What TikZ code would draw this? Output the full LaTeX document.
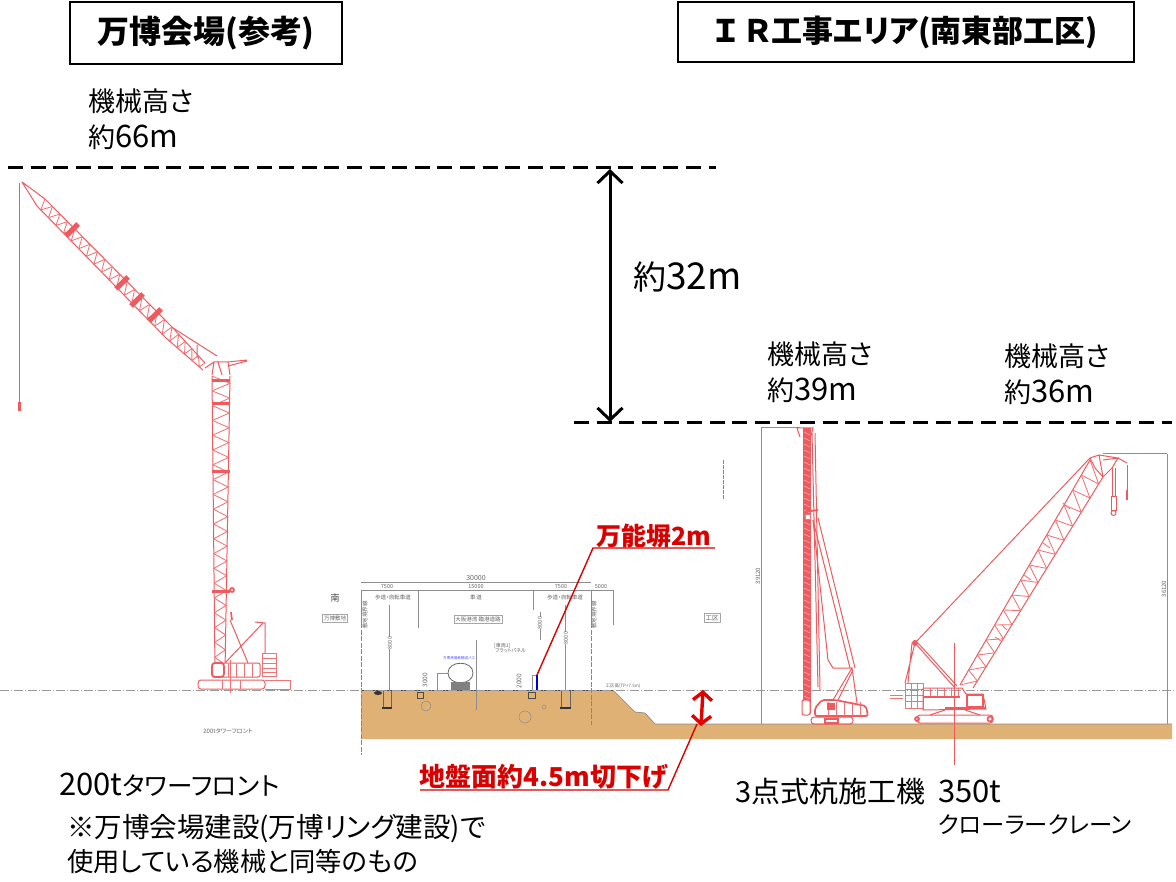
\documentclass[tikz,border=0pt]{standalone}
\usepackage{fontspec}
\setmainfont{Noto Sans CJK JP}[RawFeature=+palt]
\usetikzlibrary{arrows.meta,calc}
\definecolor{soil}{HTML}{E0B174}
\definecolor{crane}{HTML}{EE5A5E}
\definecolor{dimgray}{HTML}{8E8E8E}
\newcommand{\fsz}[1]{\fontsize{#1}{#1}\selectfont}
\newcommand{\craneLat}[5]{%
  \draw[cr] #1 -- #2 #3 -- #4;
  \foreach \ii in {1,...,#5}{\draw[crt] ($#1!{(\ii-1)/#5}!#2$) -- ($#3!{(\ii-.5)/#5}!#4$) -- ($#1!{\ii/#5}!#2$);}
}
\tikzset{
  cr/.style={draw=crane,line width=1pt},
  crt/.style={draw=crane!85!white,line width=.85pt},
  crb/.style={draw=crane,line width=1.7pt},
  titlebox/.style={draw=black,line width=1.5pt,minimum height=62pt,inner sep=0pt,font=\fsz{32}\bfseries},
  lbl/.style={anchor=west,inner sep=0pt,align=left,font=\fsz{27}},
  redlbl/.style={inner sep=0pt,text=red!85!black,font=\fsz{25}\bfseries},
  levelline/.style={draw=black,line width=3pt,dash pattern=on 15pt off 7.6pt},
  bigarrow/.style={draw=black,line width=3pt,{Straight Barb[length=12pt,width=25pt]}-{Straight Barb[length=12pt,width=25pt]}},
  redarrow/.style={draw=red!90!black,line width=3.4pt,{Straight Barb[length=8pt,width=19pt]}-{Straight Barb[length=8pt,width=19pt]}},
  leader/.style={draw=red!85!black,line width=1.4pt},
  dimline/.style={draw=dimgray,line width=1pt},
  tiny/.style={inner sep=0pt,text=black!60,font=\fsz{5.5}},
  tinybox/.style={draw=black!35,line width=.6pt,inner sep=1.5pt,text=black!60,font=\fsz{5.5}},
  gline/.style={draw=black!40,line width=.5pt,dash pattern=on 9pt off 2pt on 1pt off 2pt},
}
\newcommand{\Lt}[1]{{\fsz{31}#1}}
\begin{document}
\begin{tikzpicture}[x=1pt,y=-1pt]
\useasboundingbox (0,0) rectangle (1176,882);

% titles
\node[titlebox,minimum width=272pt] (t1) at (206,33) {万博会場(参考)};
\node[titlebox,minimum width=456pt,minimum height=60pt,font=\fsz{31}\bfseries] (t2) at (906,32) {Ｉ Ｒ工事エリア(南東部工区)};

% level lines
\coordinate (L1a) at (8,168); \coordinate (L1b) at (716,168);
\coordinate (L2a) at (574,423); \coordinate (L2b) at (1172,423);
\draw[levelline] (L1a) -- (L1b);
\draw[levelline] (L2a) -- (L2b);
\coordinate (Aa) at (610,169); \coordinate (Ab) at (610,422);
\draw[bigarrow] (Aa) -- (Ab);

% height labels
\node[lbl] (h1) at (88,119.5) {機械高さ\\[9pt]約\Lt{66m}};
\node[lbl,font=\fsz{33}] (h0) at (633,277) {約{\fsz{37}32m}};
\node[lbl] (h2) at (767,372) {機械高さ\\[9pt]約\Lt{39m}};
\node[lbl] (h3) at (1004,374) {機械高さ\\[9pt]約\Lt{36m}};
\node[lbl,font=\fsz{25.5}] (c1) at (59,785) {\Lt{200t}タワーフロント};
\node[lbl,font=\fsz{27.5}] (n1) at (67,829) {※万博会場建設(万博リング建設)で};
\node[lbl,font=\fsz{26.3}] (n2) at (67,862) {使用している機械と同等のもの};
\node[lbl,font=\fsz{29}] (c2) at (735,792) {3点式杭施工機};
\node[lbl,font=\fsz{31}] (c3a) at (938,791) {350t};
\node[lbl,font=\fsz{23.3}] (c3b) at (938,825) {クローラークレーン};
\node[tiny,font=\fsz{6}] (c1s) at (228,731) {200tタワーフロント};

% ground
\fill[soil] (361,690) -- (613,690) -- (635,712) -- (645,713) -- (655,724) -- (1172,724) -- (1172,739) -- (361,739) -- cycle;
\draw[black!70,line width=.9pt] (361,690) -- (613,690);
\draw[black!45,line width=.7pt] (613,690) -- (635,712) -- (645,713) -- (655,724) -- (1172,724);
\draw[gline] (0,690) -- (1176,690);

% section: dimensions
\draw[dimline,line width=.8pt] (361,582) -- (591,582);
\draw[dimline,line width=.8pt] (361,590) -- (613,590);
\foreach \xx/\yy in {361/628,418/628,533/610,591/628,613/625}{\draw[dimline,line width=.7pt] (\xx,590) -- (\xx,\yy);}
\node[tiny,font=\fsz{7}] (d0) at (476,578) {30000};
\node[tiny] (d1) at (387,586.5) {7500};
\node[tiny] (d2) at (476,586.5) {15000};
\node[tiny] (d3) at (561,586.5) {7500};
\node[tiny] (d4) at (601,586.5) {5000};
\node[tiny,text=black!75,font=\fsz{9}] (s0) at (335,598) {南};
\node[tiny] (s1) at (393,597) {歩道・自転車道};
\node[tiny] (s2) at (476,597) {車\,道};
\node[tiny] (s3) at (565,597) {歩道・自転車道};
\node[tinybox] (b1) at (335,618) {万博敷地};
\node[tinybox] (b2) at (478,619) {大阪港湾 臨港道路};
\node[tinybox,font=\fsz{6.5}] (b3) at (712,618) {工区};
\node[tiny,rotate=90] (v1) at (365,615) {敷地境界線};
\node[tiny,rotate=90] (v2) at (594,615) {敷地境界線};
\node[tiny,text=blue!70,font=\fsz{3.6}] (bl) at (459,658) {万博来場者輸送バス};
\node[tiny,align=left,font=\fsz{5}] (an) at (510,648) {[車両1]\\\ フラットパネル};
\node[tiny,font=\fsz{4.5}] (tp) at (623,686) {工区高(TP+7.5m)};
% poles
\draw[dimline] (389,605) -- (389,690);
\draw[dimline] (540,612) -- (540,640);
\draw[dimline] (565,605) -- (565,690);
\draw[dimline,line width=.7pt] (476,640) -- (476,710);
\node[tiny,rotate=90,fill=white] (p1) at (390,643) {8000};
\node[tiny,rotate=90,fill=white] (p2) at (540,623) {8000};
\node[tiny,rotate=90,fill=white] (p3) at (566,638) {8000};
\node[tiny,rotate=90,font=\fsz{6.5}] (p4) at (425,680) {3000};
\node[tiny,rotate=90,font=\fsz{6.5}] (p5) at (519,681) {2000};
% boundary red
\draw[draw=crane,line width=.6pt,dash pattern=on 5pt off 1.5pt] (361,597) -- (361,755);
\draw[draw=crane,line width=.6pt,dash pattern=on 5pt off 1.5pt] (591,597) -- (591,725);
% buried
\draw[black!60,line width=.7pt] (383,691) -- (383,708) (391,691) -- (391,708) (561,691) -- (561,708) (570,691) -- (570,708);
\draw[black!80,line width=1.4pt] (382,708) -- (392,708) (560,708) -- (571,708);
\draw[black!70,line width=.8pt] (417,692) rectangle (423,698) (528,692) rectangle (535,698);
\fill[black!80] (378,693) ellipse (4 and 2);
\draw[black!45,line width=.5pt] (426,706) circle (5) (525,717) circle (6) (544,707) circle (2);
% vehicle
\draw[black!60,line width=.8pt,fill=white] (448,673) .. controls (448,660) and (473,660) .. (473,673) .. controls (473,686) and (448,686) .. (448,673);
\fill[black!50] (451,682) rectangle (470,690);
\draw[dimline,line width=.5pt] (437,673) -- (448,673) (437,673) -- (437,690);
\draw[dimline,line width=.5pt] (532,675) -- (537,675) (532,675) -- (532,690);
% wall
\coordinate (wtop) at (537,675);
\draw[blue!80!black,line width=2.6pt] (wtop) -- (537,690);

% red callouts
\node[redlbl] (w) at (654,536) {万能塀2m};
\coordinate (wL) at (593,548); \coordinate (wR) at (715,548);
\draw[leader] (wR) -- (wL) -- (wtop);
\node[redlbl,font=\fsz{26}\bfseries] (g) at (544,777) {地盤面約4.5m切下げ};
\coordinate (gL) at (420,790); \coordinate (gR) at (668,790); \coordinate (gT) at (697,724);
\draw[leader] (gL) -- (gR) -- (gT);
\coordinate (ra) at (703,690); \coordinate (rb) at (701,726);
\draw[redarrow] (ra) -- (rb);

% ---------- crane 1: 200t tower
\draw[cr] (19.5,183) -- (19.5,403);
\fill[crane] (18,402) rectangle (21,411);
\draw[cr] (22,182) -- (45,199) (22,182) -- (37,206);
\craneLat{(45,199)}{(172,327)}{(37,206)}{(166,338)}{17}
\craneLat{(172,327)}{(205,363)}{(166,338)}{(203,370)}{5}
\draw[cr] (173,328) -- (217,356) (197,345) -- (197,358);
\foreach \ax/\ay/\bx/\by in {66/236/78/224,116/289/128/277,131/306/143/294,149/321/161/309}{\draw[crane,line width=5pt] (\ax,\ay) -- (\bx,\by);}
\draw[cr] (205,368) -- (214,362) -- (228,362) -- (247,360) (214,362) -- (212,375) (228,362) -- (230,375) (228,366) -- (247,361) (218,362) -- (222,375);
\craneLat{(212,376)}{(215,672)}{(230,376)}{(225,672)}{20}
\foreach \yy in {379,402,470,590}{\fill[crane] (212,\yy) rectangle (230,\yy+3);}
% base
\draw[cr,rounded corners=3pt] (198,680) rectangle (265,689);
\draw[crt] (222,680) -- (222,689) (240,680) -- (240,689) (265,680) -- (290,680) -- (290,689) -- (265,689);
\draw[cr,rounded corners=2pt,fill=white] (212,663) rectangle (260,677);
\draw[crb,rounded corners=3pt] (212,663) rectangle (224,677);
\foreach \xx in {228,236,244,252}{\draw[crt] (\xx,664) -- (\xx,677);}
\draw[crt] (262,653) rectangle (276,676);
\foreach \yy in {658,663,668,672}{\draw[crt] (262,\yy) -- (276,\yy);}
\draw[cr] (230,620) -- (248,663) (225,663) -- (263,623) (255,622) -- (265,623) -- (265,653);
\draw[crb] (231,612) -- (232,620);
\draw[crb] (232,590) circle (2);
\draw[crt] (230,660) -- (230,693);

% ---------- pile rig
\draw[dimline] (761,428) -- (761,724) (761,428) -- (800,428);
\node[tiny,rotate=90,fill=white,font=\fsz{6}] (dr) at (758,576) {39120};
\draw[draw=crane,line width=.6pt,dash pattern=on 4pt off 1pt] (723,460) -- (723,500);
\fill[crane] (803,428) rectangle (811,714);
\foreach \yy in {432,438,...,712}{\draw[white,line width=.5pt,opacity=.55] (804,\yy) -- (810,\yy+3);}
\draw[cr] (797,428) -- (813,428) -- (811,436) (797,428) -- (800,437);
\draw[crb] (804,512) -- (818,510);
\draw[crt,fill=white] (805,514) rectangle (810,519);
\draw[cr] (812,433) -- (818,687) (815,433) -- (820,690);
\draw[cr] (813,520) -- (850,668) (818,518) -- (855,668);
\draw[cr] (813,520) -- (828,660) -- (833,668) -- (852,668);
\draw[cr] (833,700) -- (852,668) -- (857,703) (838,700) -- (852,672);
\draw[cr,rounded corners=2pt,fill=white] (802,700) rectangle (810,715);
\draw[cr,rounded corners=3pt] (811,717) rectangle (853,724);
\draw[crb] (825,719) rectangle (838,723);
\draw[crb,rounded corners=2pt] (815,708) -- (822,700) -- (835,700) -- (866,706) -- (868,716) -- (815,716) -- cycle;
\foreach \xx in {828,836,844,852,860}{\draw[crt] (\xx,702) -- (\xx,716);}
\fill[crane] (827,703) rectangle (835,710);

% ---------- crane 3: 350t crawler
\draw[dimline] (1167,454) -- (1167,724) (1103,454) -- (1167,454);
\node[tiny,rotate=90,fill=white,font=\fsz{6}] (dc) at (1164,589) {36120};
\craneLat{(960,685)}{(1090,460)}{(973,688)}{(1103,477)}{15}
\draw[crt] (995,637) -- (1001,641) (1002,625) -- (1007,630) (1024,575) -- (1031,580) (1043,543) -- (1050,548) (1063,503) -- (1070,509);
\draw[cr] (1090,458) -- (1099,455) -- (1118,458) -- (1127,463) (1090,458) -- (1095,468) -- (1103,477) (1099,455) -- (1103,477) (1103,460) -- (1118,458) -- (1112,468) -- (1103,477);
\draw[cr] (1112,468) -- (1112,497) (1115,468) -- (1115,497) (1127,465) -- (1127,490);
\draw[cr] (1111,497) rectangle (1116,510);
\draw[cr] (1113.5,513) circle (2.5);
\draw[crb] (1127,490) -- (1127,500);
\draw[cr] (1090,458) -- (915,643);
\fill[crane] (915,643) circle (3);
\draw[cr] (915,643) -- (955,688) (918,643) -- (957,686) (915,643) -- (905,683) (912,643) -- (908,683);
\draw[crt] (905,683) rectangle (923,708);
\foreach \yy in {689,695,701}{\draw[crt] (905,\yy) -- (923,\yy);}
\foreach \xx in {911,917}{\draw[crt] (\xx,683) -- (\xx,708);}
\draw[crt] (890,695) -- (903,695) (890,698) -- (903,698);
\draw[cr] (923,688) -- (962,688) -- (966,694) -- (983,694) -- (986,709) -- (923,710) -- cycle;
\foreach \xx in {930,937,944,951,958}{\draw[crt] (\xx,688) -- (\xx,697);}
\draw[crb] (923,697) -- (960,697) (945,708) -- (986,708) (967,695) rectangle (983,707);
\draw[cr,rounded corners=3pt] (917,715) rectangle (993,723);
\draw[crb] (917,719) circle (2) (990,719) circle (2.5);
\draw[cr] (945,710) -- (930,715) (965,710) -- (980,715);
\draw[draw=crane,line width=.6pt] (954,643) -- (954,765);
\end{tikzpicture}
\end{document}
